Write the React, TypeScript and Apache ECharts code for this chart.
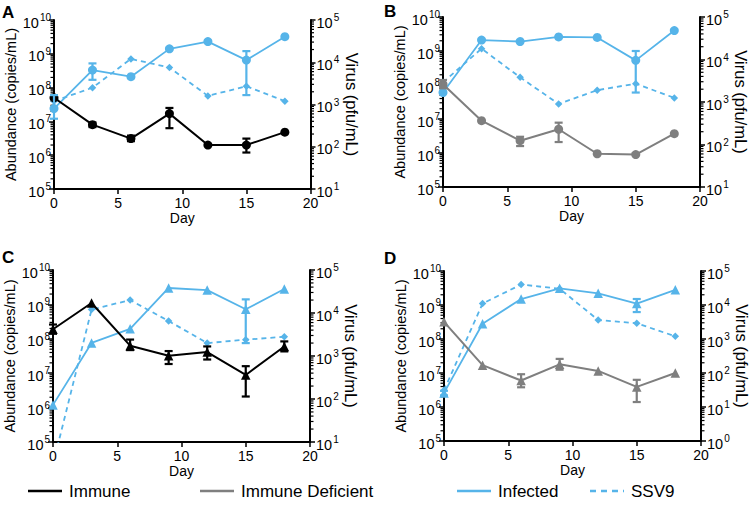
import React, { useEffect, useRef } from 'react';
import * as echarts from 'echarts';

// ---------------- data ----------------
const days = [0, 3, 6, 9, 12, 15, 18];

// Panel A – Immune host (circles)
const hostA = [5.0e7, 8.0e6, 3.1e6, 1.7e7, 2.0e6, 2.0e6, 4.8e6];
const infectedA = [2.4e7, 3.3e8, 2.1e8, 1.4e9, 2.3e9, 6.5e8, 3.2e9];
const ssv9A = [1.2e3, 2.5e3, 1.2e4, 7.5e3, 1.6e3, 2.7e3, 1.2e3];
const hostErrA = [[3, 6.8e6, 9.3e6], [6, 2.6e6, 3.8e6], [9, 6.3e6, 2.5e7], [15, 1.2e6, 3.1e6]];
const infectedErrA = [[0, 1.2e7, 6.0e7], [3, 1.7e8, 5.2e8], [15, 6.0e7, 1.2e9]];

// Panel B – Immune deficient host (circles)
const hostB = [1.05e8, 8.9e6, 2.3e6, 5.0e6, 9.5e5, 9.0e5, 3.7e6];
const infectedB = [6.0e7, 2.1e9, 1.9e9, 2.6e9, 2.5e9, 5.3e8, 4.0e9];
const ssv9B = [2.9e3, 1.8e4, 3.8e3, 9.0e2, 1.9e3, 2.7e3, 1.25e3];
const hostErrB = [[0, 8.0e7, 1.4e8], [6, 1.6e6, 3.0e6], [9, 2.1e6, 7.8e6]];
const infectedErrB = [[15, 6.0e7, 1.0e9]];

// Panel C – Immune host (triangles)
const hostC = [1.9e8, 1.1e9, 6.3e7, 3.2e7, 4.1e7, 8.9e6, 6.0e7];
const infectedC = [1.2e6, 7.6e7, 1.95e8, 3.0e9, 2.6e9, 7.2e8, 2.8e9];
const ssv9C = [3, 1.2e4, 2.0e4, 6.5e3, 2.0e3, 2.4e3, 2.8e3];
const hostErrC = [[0, 1.4e8, 2.6e8], [6, 4.7e7, 9.5e7], [9, 1.85e7, 4.4e7], [12, 2.5e7, 6.0e7], [15, 2.1e6, 1.6e7], [18, 4.3e7, 8.4e7]];
const infectedErrC = [[15, 7.5e7, 1.4e9]];

// Panel D – Immune deficient host (triangles)
const hostD = [3.2e8, 1.7e7, 6.0e6, 1.8e7, 1.15e7, 3.9e6, 1.0e7];
const infectedD = [2.6e6, 2.8e8, 1.5e9, 3.1e9, 2.2e9, 1.1e9, 2.8e9];
const ssv9D = [31, 1.1e4, 4.0e4, 3.0e4, 3.6e3, 2.9e3, 1.2e3];
const hostErrD = [[6, 3.8e6, 9.2e6], [9, 1.25e7, 2.6e7], [15, 1.4e6, 6.3e6]];
const infectedErrD = [[0, 2.2e6, 3.0e6], [15, 6.2e8, 1.5e9]];

// axis ranges / ticks
const leftMin = 1e5;
const leftMax = 1e10;
const rightMins = [10, 10, 10, 1];
const rightMax = 1e5;
const minorTickMultipliers = [2, 3, 4, 5, 6, 7, 8, 9];
const xTicks = { min: 0, max: 20, interval: 5 };

const panelLetters = ['A', 'B', 'C', 'D'];
const legendNames = ['Immune', 'Immune Deficient', 'Infected', 'SSV9'];

// ---------------- styles ----------------
const FONT = "'Liberation Sans', Arial, Helvetica, sans-serif";
const BLUE = '#56B4E9';
const GRAY = '#7f7f7f';
const BLACK = '#000000';

const grids = [
  { left: 54, top: 20, width: 256.5, height: 169 },
  { left: 443, top: 17, width: 257, height: 170 },
  { left: 53, top: 270, width: 257, height: 172 },
  { left: 444, top: 271, width: 257, height: 170 },
];
const letterPos = [[2, 4], [384, 3], [2, 249], [384, 250]];

const panels = [
  { host: hostA, hostErr: hostErrA, inf: infectedA, infErr: infectedErrA, ssv: ssv9A, hostName: 'Immune', hostColor: BLACK, symbol: 'circle' },
  { host: hostB, hostErr: hostErrB, inf: infectedB, infErr: infectedErrB, ssv: ssv9B, hostName: 'Immune Deficient', hostColor: GRAY, symbol: 'circle' },
  { host: hostC, hostErr: hostErrC, inf: infectedC, infErr: infectedErrC, ssv: ssv9C, hostName: 'Immune', hostColor: BLACK, symbol: 'triangle' },
  { host: hostD, hostErr: hostErrD, inf: infectedD, infErr: infectedErrD, ssv: ssv9D, hostName: 'Immune Deficient', hostColor: GRAY, symbol: 'triangle' },
];

const supFormatter = (v: number) => `{b|10}{s|${Math.round(Math.log10(v))}}`;
const supRich = {
  b: { fontSize: 14.5, fontFamily: FONT, color: '#000', padding: [5, 0, 0, 0] },
  s: { fontSize: 10, fontFamily: FONT, color: '#000', padding: [0, 0, 5, 1] },
};

function errorBarSeries(data: number[][], color: string, xi: number, yi: number) {
  return {
    type: 'custom',
    xAxisIndex: xi,
    yAxisIndex: yi,
    data,
    encode: { x: 0, y: [1, 2] },
    z: 6,
    silent: true,
    renderItem: (params: any, api: any) => {
      const x = api.value(0);
      const lo = api.coord([x, api.value(1)]);
      const hi = api.coord([x, api.value(2)]);
      const w = 4;
      const st = { stroke: color, lineWidth: 2.2 };
      return {
        type: 'group',
        children: [
          { type: 'line', shape: { x1: lo[0], y1: lo[1], x2: hi[0], y2: hi[1] }, style: st },
          { type: 'line', shape: { x1: lo[0] - w, y1: lo[1], x2: lo[0] + w, y2: lo[1] }, style: st },
          { type: 'line', shape: { x1: hi[0] - w, y1: hi[1], x2: hi[0] + w, y2: hi[1] }, style: st },
        ],
      };
    },
  };
}

function minorTickSeries(xEdge: number, minV: number, maxV: number, xi: number, yi: number, dir: number) {
  const data: number[][] = [];
  for (let dec = minV; dec < maxV; dec *= 10) {
    minorTickMultipliers.forEach((m) => data.push([xEdge, m * dec]));
  }
  return {
    type: 'custom',
    xAxisIndex: xi,
    yAxisIndex: yi,
    data,
    clip: false,
    silent: true,
    z: 3,
    renderItem: (params: any, api: any) => {
      const p = api.coord([api.value(0), api.value(1)]);
      return {
        type: 'line',
        shape: { x1: p[0], y1: p[1], x2: p[0] + dir * 3.5, y2: p[1] },
        style: { stroke: '#000', lineWidth: 1.2 },
      };
    },
  };
}

function buildOption() {
  const grid: any[] = [];
  const xAxis: any[] = [];
  const yAxis: any[] = [];
  const series: any[] = [];

  panels.forEach((p, i) => {
    grid.push({ ...grids[i], outerBoundsMode: 'none', containLabel: false });
    xAxis.push({
      type: 'value',
      gridIndex: i,
      min: xTicks.min,
      max: xTicks.max,
      interval: xTicks.interval,
      name: 'Day',
      nameLocation: 'middle',
      nameGap: 21,
      nameTextStyle: { fontSize: 14, color: '#000', fontFamily: FONT },
      axisLine: { lineStyle: { color: '#000', width: 2 } },
      axisTick: { length: 5, lineStyle: { color: '#000', width: 1.5 } },
      axisLabel: { fontSize: 14, color: '#000', margin: 7, fontFamily: FONT },
      splitLine: { show: false },
    });
    yAxis.push({
      type: 'log',
      logBase: 10,
      gridIndex: i,
      position: 'left',
      min: leftMin,
      max: leftMax,
      splitNumber: 5,
      name: 'Abundance (copies/mL)',
      nameLocation: 'middle',
      nameGap: 35,
      nameTextStyle: { fontSize: 14.5, color: '#000', fontFamily: FONT },
      axisLine: { show: true, lineStyle: { color: '#000', width: 2 } },
      axisTick: { show: true, length: 5, lineStyle: { color: '#000', width: 1.5 } },
      axisLabel: { formatter: supFormatter, rich: supRich, margin: 3 },
      splitLine: { show: false },
    });
    const rMin = rightMins[i];
    yAxis.push({
      type: 'log',
      logBase: 10,
      gridIndex: i,
      position: 'right',
      min: rMin,
      max: rightMax,
      splitNumber: Math.round(Math.log10(rightMax / rMin)),
      name: 'Virus (pfu/mL)',
      nameLocation: 'middle',
      nameRotate: -90,
      nameGap: 31,
      nameTextStyle: { fontSize: 16.5, color: '#000', fontFamily: FONT },
      axisLine: { show: true, lineStyle: { color: '#000', width: 2 } },
      axisTick: { show: true, length: 5, lineStyle: { color: '#000', width: 1.5 } },
      axisLabel: { formatter: supFormatter, rich: supRich, margin: 6 },
      splitLine: { show: false },
    });

    const yl = 2 * i;
    const yr = 2 * i + 1;
    series.push({
      type: 'line',
      name: 'SSV9',
      xAxisIndex: i,
      yAxisIndex: yr,
      data: days.map((d, j) => [d, p.ssv[j]]),
      symbol: 'diamond',
      symbolSize: 7.5,
      clip: true,
      lineStyle: { color: BLUE, width: 1.8, type: [5, 4] },
      itemStyle: { color: BLUE },
      z: 3,
    });
    series.push({
      type: 'line',
      name: 'Infected',
      xAxisIndex: i,
      yAxisIndex: yl,
      data: days.map((d, j) => [d, p.inf[j]]),
      symbol: p.symbol,
      symbolSize: p.symbol === 'circle' ? 9 : 9.5,
      clip: true,
      lineStyle: { color: BLUE, width: 1.8 },
      itemStyle: { color: BLUE },
      z: 4,
    });
    series.push({
      type: 'line',
      name: p.hostName,
      xAxisIndex: i,
      yAxisIndex: yl,
      data: days.map((d, j) => [d, p.host[j]]),
      symbol: p.symbol,
      symbolSize: p.symbol === 'circle' ? 9 : 9.5,
      clip: true,
      lineStyle: { color: p.hostColor, width: 2 },
      itemStyle: { color: p.hostColor },
      z: 5,
    });
    series.push(errorBarSeries(p.infErr, BLUE, i, yl));
    series.push(errorBarSeries(p.hostErr, p.hostColor, i, yl));
    series.push(minorTickSeries(xTicks.min, leftMin, leftMax, i, yl, -1));
    series.push(minorTickSeries(xTicks.max, rMin, rightMax, i, yr, 1));
  });

  const graphic: any[] = [];
  panelLetters.forEach((t, i) => {
    graphic.push({
      type: 'text',
      x: letterPos[i][0],
      y: letterPos[i][1],
      silent: true,
      style: { text: t, fontFamily: FONT, fontSize: 17, fontWeight: 'bold', fill: '#000', textVerticalAlign: 'top', verticalAlign: 'top' },
    });
  });

  const legendColors = [BLACK, GRAY, BLUE, BLUE];
  const legendLineX = [28, 200, 457, 590];
  const legendY = 491;
  legendNames.forEach((n, i) => {
    const x0 = legendLineX[i];
    graphic.push({
      type: 'line',
      silent: true,
      shape: { x1: x0, y1: legendY, x2: x0 + 34, y2: legendY },
      style: { stroke: legendColors[i], lineWidth: 2.5, lineDash: i === 3 ? [6, 5] : null },
    });
    graphic.push({
      type: 'text',
      silent: true,
      x: x0 + 41,
      y: legendY,
      style: { text: n, fontFamily: FONT, fontSize: 17, fill: '#000', verticalAlign: 'middle', textVerticalAlign: 'middle' },
    });
  });

  return {
    animation: false,
    backgroundColor: '#ffffff',
    textStyle: { fontFamily: FONT },
    grid,
    xAxis,
    yAxis,
    series,
    graphic,
  };
}

export default function App() {
  const ref = useRef<HTMLDivElement>(null);
  useEffect(() => {
    if (!ref.current) return;
    const chart = echarts.init(ref.current, null, { renderer: 'svg' });
    chart.setOption(buildOption() as any);
    return () => chart.dispose();
  }, []);
  return <div ref={ref} style={{ position: 'absolute', left: 0, top: 0, width: 750, height: 508 }} />;
}
